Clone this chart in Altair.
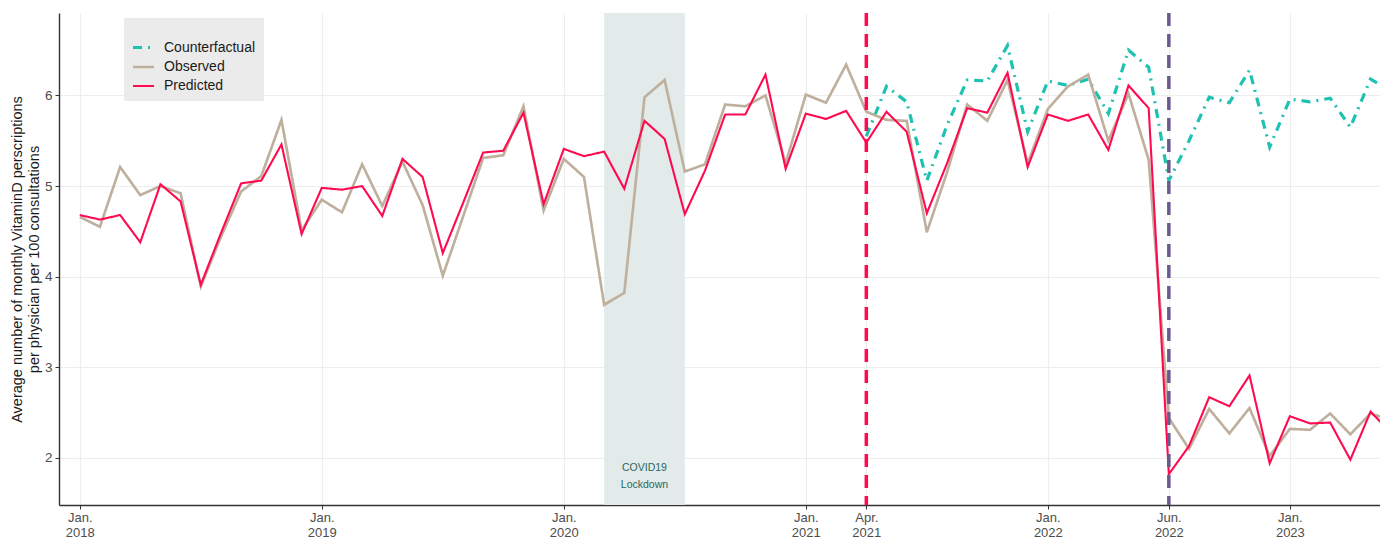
import altair as alt
import pandas as pd

# ---- data (month index 0 = Jan. 2018) ----
observed = [4.66, 4.55, 5.21, 4.90, 5.00, 4.92, 3.89, 4.44, 4.94, 5.11, 5.73, 4.51,
            4.85, 4.71, 5.24, 4.78, 5.27, 4.79, 4.01, 4.66, 5.31, 5.34, 5.88, 4.73,
            5.30, 5.10, 3.69, 3.82, 5.98, 6.17, 5.16, 5.24, 5.90, 5.88, 6.00, 5.25,
            6.01, 5.92, 6.34, 5.82, 5.73, 5.72, 4.49, 5.15, 5.90, 5.72, 6.17, 5.25,
            5.85, 6.10, 6.23, 5.50, 6.02, 5.29, 2.44, 2.10, 2.54, 2.27, 2.55, 2.02,
            2.32, 2.31, 2.49, 2.26, 2.49, 2.42]
predicted = [4.68, 4.63, 4.68, 4.38, 5.02, 4.83, 3.91, 4.48, 5.03, 5.06, 5.46, 4.47,
             4.98, 4.96, 5.00, 4.67, 5.30, 5.10, 4.26, 4.81, 5.37, 5.39, 5.81, 4.80,
             5.41, 5.33, 5.38, 4.97, 5.72, 5.52, 4.69, 5.17, 5.79, 5.79, 6.23, 5.19,
             5.80, 5.74, 5.83, 5.48, 5.82, 5.60, 4.70, 5.25, 5.86, 5.81, 6.25, 5.21,
             5.79, 5.72, 5.79, 5.40, 6.11, 5.86, 1.82, 2.13, 2.67, 2.57, 2.91, 1.94,
             2.46, 2.38, 2.39, 1.98, 2.51, 2.28]
cf_start = 39
counterfactual = [5.55, 6.10, 5.93, 5.06, 5.67, 6.17, 6.16, 6.55, 5.60, 6.16, 6.11, 6.18,
                  5.80, 6.50, 6.31, 5.06, 5.50, 5.98, 5.92, 6.28, 5.43, 5.96, 5.93, 5.97,
                  5.65, 6.18, 6.05]

series_names = ["Counterfactual", "Observed", "Predicted"]
series_colors = ["#1FC1B1", "#BFB09E", "#FF0A50"]
series_dash = [[9, 6, 2, 6], [1, 0], [1, 0]]
series_width = [3.2, 2.1, 3.0]

tick_values = [0, 12, 24, 36, 39, 48, 54, 60]
tick_labels = [["Jan.", "2018"], ["Jan.", "2019"], ["Jan.", "2020"], ["Jan.", "2021"],
               ["Apr.", "2021"], ["Jan.", "2022"], ["Jun.", "2022"], ["Jan.", "2023"]]

lockdown_start, lockdown_end = 26, 30
lockdown_text = [("COVID19", 1.89), ("Lockdown", 1.70)]
interventions = [(39, "#FF0A50"), (54, "#6A5A8C")]

x_domain = [-1.03, 64.47]
y_domain = [1.48, 6.91]

# ---- tables ----
rows = []
for i, v in enumerate(counterfactual):
    rows.append({"m": cf_start + i, "value": v, "series": "Counterfactual"})
for i, v in enumerate(observed):
    rows.append({"m": i, "value": v, "series": "Observed"})
for i, v in enumerate(predicted):
    rows.append({"m": i, "value": v, "series": "Predicted"})
df = pd.DataFrame(rows)

text_df = pd.DataFrame({"m": [(lockdown_start + lockdown_end) / 2] * len(lockdown_text),
                        "value": [t[1] for t in lockdown_text],
                        "label": [t[0] for t in lockdown_text]})

label_expr = ""
for v, lab in zip(tick_values, tick_labels):
    label_expr += f"datum.value == {v} ? ['{lab[0]}', '{lab[1]}'] : "
label_expr += "''"

x_scale = alt.Scale(domain=x_domain, nice=False, zero=False)
y_scale = alt.Scale(domain=y_domain, nice=False, zero=False)

x_axis = alt.Axis(values=tick_values, labelExpr=label_expr, title=None, grid=True,
                  labelFontSize=13, labelLineHeight=15, labelColor="#4D4D4D",
                  tickSize=4, labelPadding=2, labelFlush=False, labelOverlap=False)
y_axis = alt.Axis(values=[2, 3, 4, 5, 6], grid=True, labelFontSize=13.5,
                  labelColor="#4D4D4D", tickSize=4, labelPadding=3,
                  title=["Average number of monthly VitaminD perscriptions",
                         "per physician per 100 consultations"],
                  titleFontSize=14.5, titleFontWeight="normal", titleColor="#1A1A1A",
                  titleLineHeight=17, titlePadding=3)

shade = alt.Chart(pd.DataFrame({"a": [lockdown_start], "b": [lockdown_end],
                                "y1": [y_domain[1]], "y2": [y_domain[0]]})).mark_rect(
    color="#E2EBEA").encode(
    x=alt.X("a:Q", scale=x_scale, axis=x_axis),
    x2="b:Q",
    y=alt.Y("y1:Q", scale=y_scale, axis=y_axis),
    y2="y2:Q",
)

legend = alt.Legend(orient="none", legendX=65, legendY=5, title=" ", titleFontSize=8,
                    titlePadding=2, padding=7, fillColor="#EBEBEB", strokeColor="#EBEBEB",
                    symbolType="stroke", symbolSize=441, rowPadding=0,
                    labelFontSize=14, labelColor="#1A1A1A", labelOffset=8,
                    labelFont="Liberation Sans")

lines = alt.Chart(df).mark_line(clip=True).encode(
    x=alt.X("m:Q", scale=x_scale, axis=x_axis),
    y=alt.Y("value:Q", scale=y_scale, axis=y_axis),
    color=alt.Color("series:N", scale=alt.Scale(domain=series_names, range=series_colors),
                    legend=legend),
    strokeDash=alt.StrokeDash("series:N", scale=alt.Scale(domain=series_names, range=series_dash),
                              legend=legend),
    strokeWidth=alt.StrokeWidth("series:N", scale=alt.Scale(domain=series_names, range=series_width),
                                legend=legend),
)

rule_layers = []
for pos, col in interventions:
    rule_layers.append(
        alt.Chart(pd.DataFrame({"m": [pos]})).mark_rule(
            color=col, strokeDash=[13, 8], strokeWidth=3.5).encode(
            x=alt.X("m:Q", scale=x_scale, axis=x_axis))
    )

txt = alt.Chart(text_df).mark_text(fontSize=10.5, color="#2B675F", font="Liberation Sans").encode(
    x=alt.X("m:Q", scale=x_scale, axis=x_axis),
    y=alt.Y("value:Q", scale=y_scale, axis=y_axis),
    text="label:N",
)

chart = alt.layer(shade, txt, lines, *rule_layers).properties(
    width=1321, height=492,
    background="white",
    autosize=alt.AutoSizeParams(type="none"),
    padding={"left": 59, "top": 13, "right": 0, "bottom": 33},
).configure_view(stroke=None).configure_axis(
    gridColor="#EDEDED", gridWidth=1.2, domainColor="#333333", domainWidth=1.4,
    tickColor="#333333", labelFont="Liberation Sans", titleFont="Liberation Sans",
)

chart.save("out.html", embed_options={"renderer": "svg", "actions": False})
